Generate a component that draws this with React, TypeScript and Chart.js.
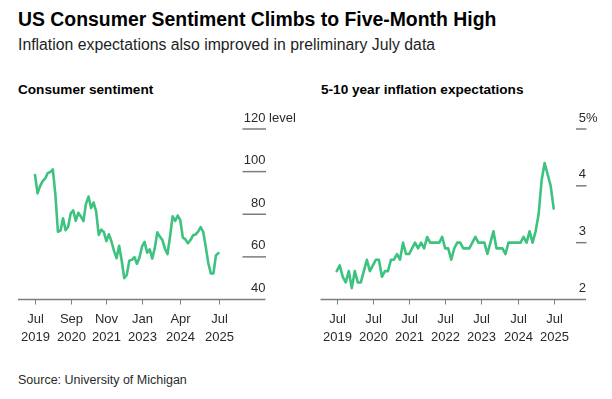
import React, { useEffect, useRef } from "react";
import { Chart, registerables } from "chart.js";

Chart.register(...registerables);

// Monthly data, Jul 2019 – Jul 2025 (preliminary)
const sentimentValues = [
  98.4, 89.8, 93.2, 95.5, 96.8, 99.3,
  99.8, 101.0, 89.1, 71.8, 72.3, 78.1, 72.5, 74.1, 80.4, 81.8, 76.9, 80.7,
  79.0, 76.8, 84.9, 88.3, 82.9, 85.5, 81.2, 70.3, 72.8, 71.7, 67.4, 70.6,
  67.2, 62.8, 59.4, 65.2, 58.4, 50.0, 51.5, 58.2, 58.6, 59.9, 56.8, 59.7,
  64.9, 67.0, 62.0, 63.5, 59.2, 64.2, 71.5, 69.5, 67.9, 63.8, 61.3, 69.7,
  79.0, 76.9, 79.4, 77.2, 69.1, 68.2, 66.4, 67.9, 70.1, 70.5, 71.8, 74.0,
  71.7, 64.7, 57.0, 52.2, 52.2, 60.7, 61.8,
];

const inflationValues = [
  2.5, 2.6, 2.4, 2.3, 2.5, 2.2,
  2.5, 2.3, 2.3, 2.5, 2.7, 2.5, 2.6, 2.7, 2.7, 2.4, 2.5, 2.5,
  2.7, 2.7, 2.8, 2.7, 3.0, 2.8, 2.8, 2.9, 3.0, 2.9, 3.0, 2.9,
  3.1, 3.0, 3.0, 3.0, 3.0, 3.1, 2.9, 2.9, 2.7, 2.9, 3.0, 3.0,
  2.9, 2.9, 2.9, 3.0, 3.1, 3.0, 3.0, 3.0, 2.8, 3.0, 3.2, 2.9,
  2.9, 2.9, 2.8, 3.0, 3.0, 3.0, 3.0, 3.0, 3.1, 3.0, 3.2, 3.0,
  3.2, 3.5, 4.1, 4.4, 4.2, 4.0, 3.6,
];

const sentimentXTicks = [0, 14, 28, 42, 57, 72];
const sentimentXLabels = [
  ["Jul", "2019"], ["Sep", "2020"], ["Nov", "2021"],
  ["Jan", "2023"], ["Apr", "2024"], ["Jul", "2025"],
];
const inflationXTicks = [0, 12, 24, 36, 48, 60, 72];
const inflationXLabels = [
  ["Jul", "2019"], ["Jul", "2020"], ["Jul", "2021"], ["Jul", "2022"],
  ["Jul", "2023"], ["Jul", "2024"], ["Jul", "2025"],
];
const sentimentYTicks = [40, 60, 80, 100, 120];
const inflationYTicks = [2, 3, 4, 5];

const FONT = '"Liberation Sans", Arial, Helvetica, sans-serif';
const GREEN = "#3ec27f";
const AXIS = "#7d7d7d";
const TEXT = "#2a2a2a";

type PanelCfg = {
  values: number[];
  xTicks: number[];
  xLabels: string[][];
  yTicks: number[];
  unit: string;
  xMin: number;
  xMax: number;
  padding: { left: number; right: number; top: number; bottom: number };
  gridLen: number;
};

function axisPlugin(cfg: PanelCfg) {
  return {
    id: "bbgAxes",
    beforeDatasetsDraw(chart: any) {
      const { ctx, chartArea } = chart;
      const xs = chart.scales.x;
      const ys = chart.scales.y;
      ctx.save();
      ctx.font = `13px ${FONT}`;
      ctx.fillStyle = TEXT;
      ctx.textBaseline = "alphabetic";
      const right = chartArea.right;
      cfg.yTicks.forEach((v, i) => {
        const y = ys.getPixelForValue(v);
        if (i > 0) {
          ctx.strokeStyle = AXIS;
          ctx.lineWidth = 1.5;
          ctx.beginPath();
          ctx.moveTo(right - cfg.gridLen, y);
          ctx.lineTo(right + 0.5, y);
          ctx.stroke();
        }
        ctx.textAlign = "right";
        ctx.fillText(String(v), right, y - 7.5);
        if (i === cfg.yTicks.length - 1) {
          ctx.textAlign = "left";
          ctx.fillText(cfg.unit, right, y - 7.5);
        }
      });
      // x axis line
      const bottom = chartArea.bottom;
      ctx.strokeStyle = AXIS;
      ctx.lineWidth = 1.5;
      ctx.beginPath();
      ctx.moveTo(chartArea.left, bottom);
      ctx.lineTo(chartArea.right, bottom);
      ctx.stroke();
      ctx.lineWidth = 1;
      ctx.textAlign = "center";
      cfg.xTicks.forEach((t, i) => {
        const x = Math.round(xs.getPixelForValue(t)) + 0.5;
        ctx.beginPath();
        ctx.moveTo(x, bottom);
        ctx.lineTo(x, bottom + 5);
        ctx.stroke();
        const [a, b] = cfg.xLabels[i];
        ctx.fillText(a, x, bottom + 23.8);
        ctx.fillText(b, x, bottom + 41.2);
      });
      ctx.restore();
    },
  };
}

function Panel({ cfg, left, yMin, yMax }: { cfg: PanelCfg; left: number; yMin: number; yMax: number }) {
  const ref = useRef<HTMLCanvasElement | null>(null);
  useEffect(() => {
    if (!ref.current) return;
    const chart = new Chart(ref.current, {
      type: "line",
      data: {
        datasets: [
          {
            data: cfg.values.map((v, i) => ({ x: i, y: v })),
            borderColor: GREEN,
            borderWidth: 2.6,
            pointRadius: 0,
            tension: 0,
            borderJoinStyle: "round",
            borderCapStyle: "round",
            clip: false,
          } as any,
        ],
      },
      options: {
        animation: false,
        responsive: false,
        maintainAspectRatio: false,
        events: [],
        layout: { padding: cfg.padding },
        plugins: { legend: { display: false }, tooltip: { enabled: false } },
        scales: {
          x: { type: "linear", display: false, min: cfg.xMin, max: cfg.xMax },
          y: { type: "linear", display: false, min: yMin, max: yMax },
        },
      },
      plugins: [axisPlugin(cfg)],
    });
    return () => chart.destroy();
  }, []);
  return (
    <canvas
      ref={ref}
      width={306}
      height={399}
      style={{ position: "absolute", left, top: 0, width: 306, height: 399 }}
    />
  );
}

const sentimentCfg: PanelCfg = {
  values: sentimentValues,
  xTicks: sentimentXTicks,
  xLabels: sentimentXLabels,
  yTicks: sentimentYTicks,
  unit: " level",
  xMin: -6.67,
  xMax: 90.44,
  padding: { left: 18, right: 40.5, top: 129, bottom: 99.5 },
  gridLen: 23,
};

const inflationCfg: PanelCfg = {
  values: inflationValues,
  xTicks: inflationXTicks,
  xLabels: inflationXLabels,
  yTicks: inflationYTicks,
  unit: "%",
  xMin: -5.38,
  xMax: 82.72,
  padding: { left: 14.5, right: 26, top: 129, bottom: 99.5 },
  gridLen: 10,
};

const textBase: React.CSSProperties = {
  position: "absolute",
  fontFamily: FONT,
  lineHeight: 1,
  whiteSpace: "nowrap",
  margin: 0,
};

export default function App() {
  return (
    <div
      style={{
        position: "absolute",
        left: 0,
        top: 0,
        width: 612,
        height: 399,
        background: "#fff",
        overflow: "hidden",
      }}
    >
      <div style={{ ...textBase, left: 18, top: 9.6, fontSize: 19.4, fontWeight: 700, color: "#000" }}>
        US Consumer Sentiment Climbs to Five-Month High
      </div>
      <div style={{ ...textBase, left: 18, top: 37.3, fontSize: 15.8, color: "#1e1e1e" }}>
        Inflation expectations also improved in preliminary July data
      </div>
      <div style={{ ...textBase, left: 18, top: 82.9, fontSize: 13.6, fontWeight: 700, color: "#000" }}>
        Consumer sentiment
      </div>
      <div style={{ ...textBase, left: 321, top: 82.9, fontSize: 13.6, fontWeight: 700, color: "#000" }}>
        5-10 year inflation expectations
      </div>
      <div style={{ ...textBase, left: 18, top: 373.7, fontSize: 12.5, color: TEXT }}>
        Source: University of Michigan
      </div>
      <Panel cfg={sentimentCfg} left={0} yMin={40} yMax={120} />
      <Panel cfg={inflationCfg} left={306} yMin={2} yMax={5} />
    </div>
  );
}
